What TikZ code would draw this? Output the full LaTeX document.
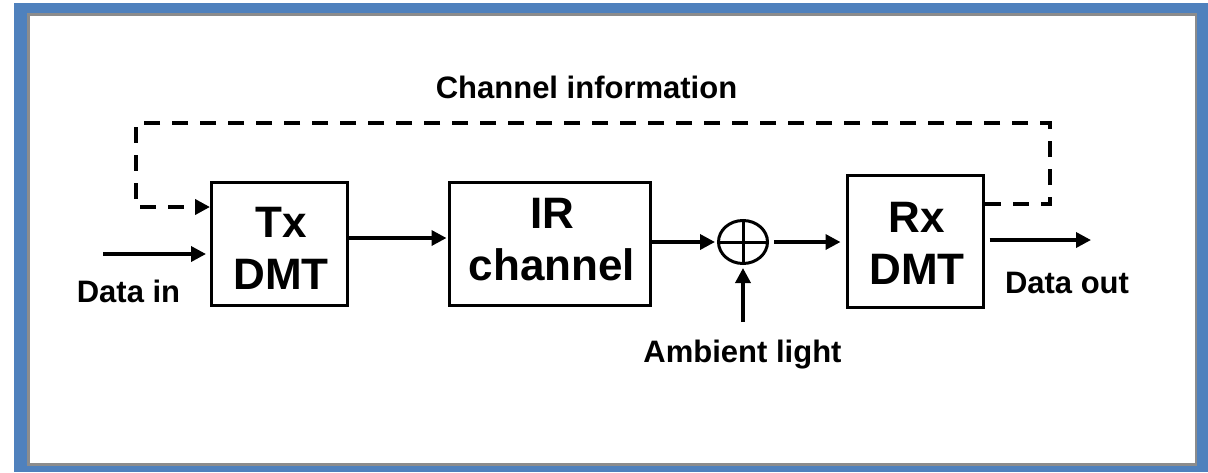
\documentclass[tikz,border=0pt]{standalone}
\usepackage{fontspec}
\setmainfont{Liberation Sans}
\usetikzlibrary{arrows.meta,shapes.geometric,calc}
\definecolor{frameblue}{RGB}{79,129,189}
\begin{document}
\begin{tikzpicture}[x=1pt,y=-1pt,
  blk/.style={draw,line width=3pt,inner sep=0pt},
  big/.style={font=\bfseries\fontsize{44}{52}\selectfont,align=center,inner sep=0pt},
  lbl/.style={font=\bfseries\fontsize{31}{37}\selectfont,inner sep=0pt,anchor=base},
  arr/.style={line width=3.5pt,-{Triangle[length=15pt,width=15pt]}},
  dsh/.style={line width=4pt,dash pattern=on 16pt off 12pt}]
\useasboundingbox (0,0) rectangle (1208,472);
% frame
\fill[frameblue] (14,3) rectangle (1208,472);
\fill[gray!90] (27,13) rectangle (1197,466);
\fill[white] (30,15.5) rectangle (1195,463);
% blocks
\node[blk,minimum width=136pt,minimum height=123pt] (tx) at (279.5,244) {};
\node[big] (txt) at (281,248.75) {Tx\\DMT};
\node[blk,minimum width=201pt,minimum height=123pt] (ir) at (550,244) {};
\node[big] (irt) at (552,239.75) {IR\\channel};
\node[blk,minimum width=136pt,minimum height=132pt] (rx) at (915.5,241.5) {};
\node[big] (rxt) at (917,243.5) {Rx\\DMT};
\node[draw,ellipse,line width=3pt,minimum width=49pt,minimum height=43pt,inner sep=0pt] (sum) at (743,242) {};
\draw[line width=3pt] (sum.north) -- (sum.south) (sum.west) -- (sum.east);
% coordinates
\coordinate (din) at (103,254);
\coordinate (dout) at (1091,240);
\coordinate (amb) at (743,322);
\coordinate (c1) at (1050,204);
\coordinate (c2) at (1050,123);
\coordinate (c3) at (136,123);
\coordinate (c4) at (136,207);
% connectors
\draw[arr,shorten >=4pt] (din) -- (din -| tx.west);
\draw[arr,shorten >=1.5pt] ([yshift=6pt]tx.east) -- ([yshift=6pt]tx.east -| ir.west);
\draw[arr,shorten >=2pt] ([yshift=2pt]ir.east) -- (sum.west);
\draw[arr,shorten <=5pt,shorten >=5.5pt] (sum.east) -- (sum.east -| rx.west);
\draw[arr,shorten >=3pt] (amb) -- (sum.south);
\draw[arr,shorten <=4.5pt] ([yshift=1.5pt]rx.east) -- (dout);
\draw[dsh,-{Triangle[length=15pt,width=15pt]}] (rx.east |- c1) -- (c1) -- (c2) -- (c3) -- (c4) -- (c4 -| tx.west);
% labels
\node[lbl] (chinfo) at (586.5,98) {Channel information};
\node[lbl] (datain) at (128.5,302) {Data in};
\node[lbl] (dataout) at (1067,293) {Data out};
\node[lbl] (ambient) at (742.5,362) {Ambient light};
\end{tikzpicture}
\end{document}
